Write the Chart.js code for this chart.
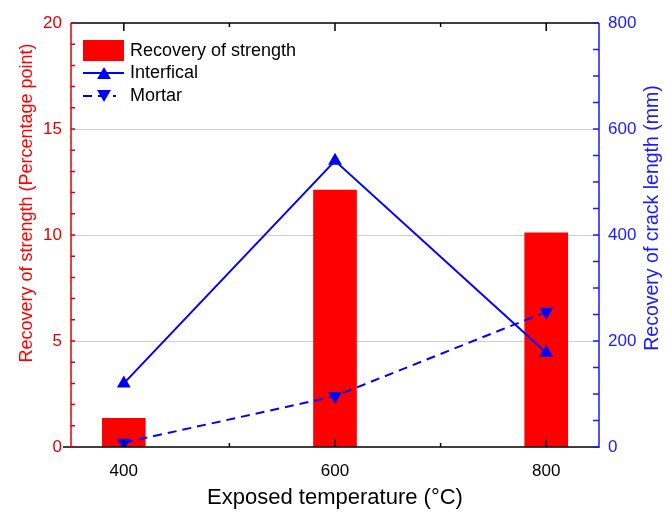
<!DOCTYPE html>
<html>
<head>
<meta charset="utf-8">
<script src="https://cdn.jsdelivr.net/npm/chart.js@4"></script>
<style>
  html, body { margin: 0; padding: 0; background: #fff; }
  #wrap { width: 665px; height: 513px; }
</style>
</head>
<body>
<div id="wrap"><canvas id="myChart" width="665" height="513"></canvas></div>
<script>
const temps = [400, 600, 800];
const strength = [1.35, 12.12, 10.1];
const interfacial = [120, 540, 178];
const mortar = [8, 96, 255];
const xTicks = [400, 500, 600, 700, 800];
const xLabels = [400, 600, 800];

const RED = '#ff0000';
const RED_AXIS = '#e00000';
const BLUE = '#0000ff';
const BLUE_AXIS = '#1a1aff';
const FONT = "'Liberation Sans', Arial, sans-serif";

const pairs = (ys) => temps.map((t, i) => ({ x: t, y: ys[i] }));

function sideTitle(ctx, text, color, size, cx, cy) {
    ctx.save();
    ctx.fillStyle = color;
    ctx.font = size + 'px ' + FONT;
    ctx.textAlign = 'center';
    ctx.textBaseline = 'middle';
    ctx.translate(cx, cy);
    ctx.rotate(-Math.PI / 2);
    ctx.fillText(text, 0, 0);
    ctx.restore();
}

// axis lines and inward tick marks, Origin style
const frame = {
    id: 'frame',
    afterDatasetsDraw(chart) {
        const ctx = chart.ctx;
        const { left, right, top, bottom } = chart.chartArea;
        const x = chart.scales.x, y = chart.scales.y, y2 = chart.scales.y2;
        ctx.save();
        ctx.lineWidth = 1.5;

        ctx.strokeStyle = '#000';
        ctx.beginPath();
        ctx.moveTo(left - 8, bottom); ctx.lineTo(right, bottom);
        ctx.moveTo(left, top); ctx.lineTo(right, top);
        xTicks.forEach(v => {
            const px = x.getPixelForValue(v);
            const len = xLabels.includes(v) ? 8 : 4;
            ctx.moveTo(px, bottom); ctx.lineTo(px, bottom - len);
            ctx.moveTo(px, top); ctx.lineTo(px, top + len);
        });
        ctx.stroke();

        ctx.strokeStyle = RED_AXIS;
        ctx.beginPath();
        ctx.moveTo(left, top); ctx.lineTo(left, bottom + 1);
        for (let v = 0; v <= 20; v++) {
            const py = y.getPixelForValue(v);
            ctx.moveTo(left, py); ctx.lineTo(left + 4, py);
        }
        ctx.stroke();

        ctx.strokeStyle = BLUE_AXIS;
        ctx.beginPath();
        ctx.moveTo(right, top); ctx.lineTo(right, bottom + 1);
        for (let v = 0; v <= 800; v += 50) {
            const py = y2.getPixelForValue(v);
            ctx.moveTo(right, py); ctx.lineTo(right - 6, py);
        }
        ctx.stroke();
        ctx.restore();

        // both vertical titles read bottom to top
        sideTitle(ctx, 'Recovery of strength (Percentage point)', RED, 18, 27, 203);
        sideTitle(ctx, 'Recovery of crack length (mm)', BLUE_AXIS, 19.5, 653, 218);
    }
};

// legend box in the upper left of the plot
const legendBox = {
    id: 'legendBox',
    afterDraw(chart) {
        const ctx = chart.ctx;
        const x0 = 83, x1 = 124, mid = 104;
        ctx.save();
        ctx.fillStyle = RED;
        ctx.fillRect(x0, 40, x1 - x0, 21);

        ctx.strokeStyle = BLUE;
        ctx.fillStyle = BLUE;
        ctx.lineWidth = 2;
        ctx.beginPath();
        ctx.moveTo(x0, 73); ctx.lineTo(x1, 73);
        ctx.stroke();
        Chart.helpers.drawPoint(ctx, { pointStyle: 'triangle', radius: 8, rotation: 0, borderWidth: 0 }, mid, 75);

        ctx.setLineDash([9, 6]);
        ctx.beginPath();
        ctx.moveTo(x0, 96); ctx.lineTo(x1 - 8, 96);
        ctx.stroke();
        ctx.setLineDash([]);
        Chart.helpers.drawPoint(ctx, { pointStyle: 'triangle', radius: 8, rotation: 180, borderWidth: 0 }, mid, 94);

        ctx.fillStyle = '#000';
        ctx.font = '18px ' + FONT;
        ctx.textBaseline = 'middle';
        ctx.fillText('Recovery of strength', 130, 51);
        ctx.fillText('Interfical', 130, 73);
        ctx.fillText('Mortar', 130, 96);
        ctx.restore();
    }
};

const ctx = document.getElementById('myChart').getContext('2d');
const myChart = new Chart(ctx, {
    type: 'bar',
    data: {
        datasets: [{
            type: 'line',
            label: 'Interfical',
            data: pairs(interfacial),
            yAxisID: 'y2',
            borderColor: BLUE,
            backgroundColor: BLUE,
            borderWidth: 2,
            pointStyle: 'triangle',
            pointRadius: 8,
            pointBorderWidth: 0,
            tension: 0,
            order: 1
        }, {
            type: 'line',
            label: 'Mortar',
            data: pairs(mortar),
            yAxisID: 'y2',
            borderColor: BLUE,
            backgroundColor: BLUE,
            borderWidth: 2,
            borderDash: [9, 6],
            pointStyle: 'triangle',
            pointRotation: 180,
            pointRadius: 8,
            pointBorderWidth: 0,
            tension: 0,
            order: 1
        }, {
            label: 'Recovery of strength',
            data: pairs(strength),
            yAxisID: 'y',
            backgroundColor: RED,
            borderWidth: 0,
            barThickness: 43,
            order: 2
        }]
    },
    options: {
        responsive: false,
        animation: false,
        layout: { padding: { top: 23, left: 0, right: 0, bottom: 0 } },
        plugins: {
            legend: { display: false },
            tooltip: { enabled: false }
        },
        scales: {
            x: {
                type: 'linear',
                position: 'bottom',
                min: 350,
                max: 850,
                offset: false,
                afterBuildTicks: s => { s.ticks = xTicks.map(v => ({ value: v })); },
                afterFit: s => { s.height = 66; },
                grid: { display: false, offset: false },
                border: { display: false },
                ticks: {
                    color: '#000',
                    font: { family: FONT, size: 17 },
                    padding: 6,
                    maxRotation: 0,
                    autoSkip: false,
                    callback: v => xLabels.includes(v) ? String(v) : ''
                },
                title: {
                    display: true,
                    text: 'Exposed temperature (°C)',
                    color: '#000',
                    font: { family: FONT, size: 22 },
                    padding: { top: 0, bottom: 2 }
                }
            },
            y: {
                position: 'left',
                min: 0,
                max: 20,
                afterFit: s => { s.width = 71; },
                grid: {
                    drawTicks: false,
                    lineWidth: 1,
                    color: c => (c.tick.value > 0 && c.tick.value < 20) ? '#cfcfcf' : 'rgba(0,0,0,0)'
                },
                border: { display: false },
                ticks: {
                    stepSize: 5,
                    color: RED_AXIS,
                    font: { family: FONT, size: 17 },
                    padding: 9
                }
            },
            y2: {
                position: 'right',
                min: 0,
                max: 800,
                afterFit: s => { s.width = 66; },
                grid: { display: false, drawTicks: false },
                border: { display: false },
                ticks: {
                    stepSize: 200,
                    color: BLUE_AXIS,
                    font: { family: FONT, size: 17 },
                    padding: 9
                }
            }
        }
    },
    plugins: [frame, legendBox]
});
</script>
</body>
</html>
